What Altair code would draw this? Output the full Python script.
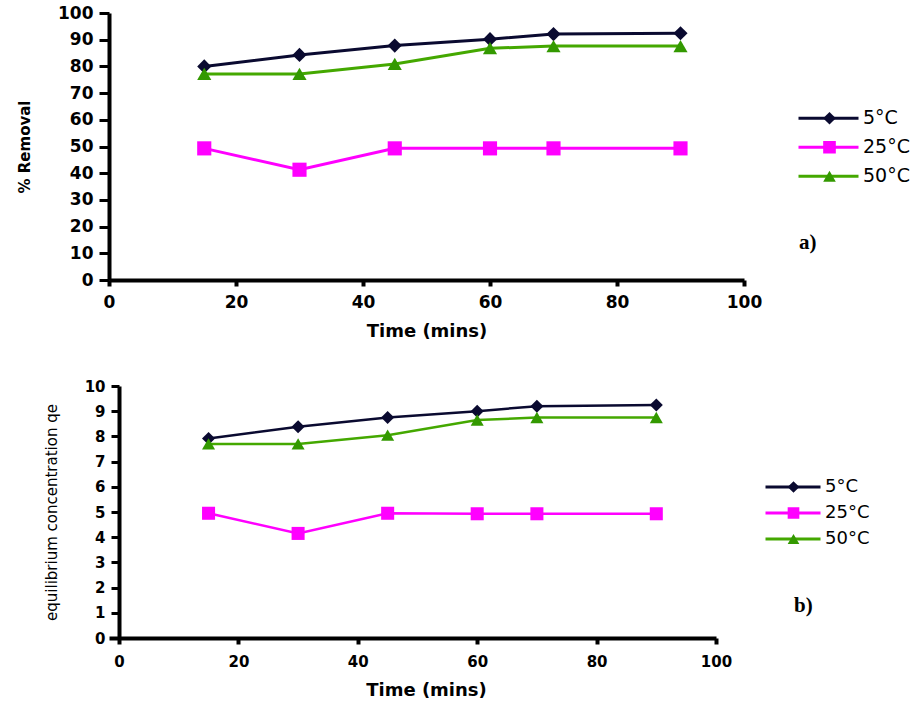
import altair as alt
import pandas as pd

# ---------------- data ----------------
time_min = [15, 30, 45, 60, 70, 90]
series_names = ["5°C", "25°C", "50°C"]

removal_5c = [80.0, 84.3, 87.8, 90.2, 92.1, 92.4]
removal_25c = [49.3, 41.3, 49.3, 49.3, 49.3, 49.3]
removal_50c = [77.2, 77.2, 80.9, 86.8, 87.6, 87.6]

qe_5c = [7.92, 8.38, 8.75, 9.0, 9.2, 9.25]
qe_25c = [4.95, 4.15, 4.95, 4.93, 4.93, 4.93]
qe_50c = [7.7, 7.7, 8.05, 8.65, 8.75, 8.75]

x_ticks = [0, 20, 40, 60, 80, 100]
y_ticks_a = [0, 10, 20, 30, 40, 50, 60, 70, 80, 90, 100]
y_ticks_b = [0, 1, 2, 3, 4, 5, 6, 7, 8, 9, 10]

line_colors = ["#0a0a30", "#ff00ff", "#44a800"]
marker_colors = ["#0a0a30", "#ff00ff", "#339900"]
marker_shapes = ["diamond", "square", "triangle-up"]


def long_df(values):
    rows = []
    for name, vals in zip(series_names, values):
        for t, v in zip(time_min, vals):
            rows.append({"time": t, "value": v, "series": name})
    return pd.DataFrame(rows)


df_a = long_df([removal_5c, removal_25c, removal_50c])
df_b = long_df([qe_5c, qe_25c, qe_50c])

FONT = "DejaVu Sans"


def panel(df, width, height, xdomain, ydomain, yticks, ytitle, ytitle_weight,
          ytitle_size, ytitle_pad, ylabel_size, yoffset, ytick_size,
          xlabel_size, xlabel_pad, xtitle_pad, xtitle_x,
          line_w, mark_size, leg_x, leg_y, leg_len, leg_clip, leg_font,
          tag, tag_x, tag_y):
    x_axis_kwargs = dict(
        values=x_ticks, title="Time (mins)", titleFont=FONT, titleFontWeight="bold",
        titleFontSize=18, titlePadding=xtitle_pad, labelFont=FONT,
        labelFontWeight="bold", labelFontSize=xlabel_size, labelPadding=xlabel_pad,
        labelFlush=False, tickSize=6, tickWidth=4, domainWidth=4, grid=False,
    )
    if xtitle_x is not None:
        x_axis_kwargs["titleX"] = xtitle_x
    x = alt.X("time:Q", scale=alt.Scale(domain=xdomain, nice=False, zero=False),
              axis=alt.Axis(**x_axis_kwargs))
    y = alt.Y("value:Q", scale=alt.Scale(domain=ydomain, nice=False),
              axis=alt.Axis(values=yticks, title=ytitle, titleFont=FONT,
                            titleFontWeight=ytitle_weight, titleFontSize=ytitle_size,
                            titlePadding=ytitle_pad, labelFont=FONT,
                            labelFontWeight="bold", labelFontSize=ylabel_size,
                            labelPadding=6, tickSize=ytick_size, tickWidth=3,
                            domainWidth=4, offset=yoffset, grid=False))
    base = alt.Chart(df)
    line_legend = alt.Legend(orient="none", legendX=leg_x, legendY=leg_y, title=None,
                             symbolType="stroke", symbolSize=leg_len * leg_len,
                             symbolStrokeWidth=3, clipHeight=leg_clip, rowPadding=2,
                             labelFont=FONT, labelFontSize=leg_font, labelColor="black",
                             labelOffset=3, padding=0)
    pt_legend = alt.Legend(orient="none", legendX=leg_x + leg_len / 2 - 7, legendY=leg_y,
                           title=None, symbolSize=mark_size * 0.8, clipHeight=leg_clip,
                           rowPadding=2, labelFont=FONT, labelFontSize=leg_font,
                           labelExpr="''", labelOffset=0, padding=0)
    lines = base.mark_line(strokeWidth=line_w).encode(
        x=x, y=y,
        color=alt.Color("series:N", scale=alt.Scale(domain=series_names, range=line_colors),
                        legend=line_legend),
    )
    points = base.mark_point(filled=True, size=mark_size, opacity=1).encode(
        x=x, y=y,
        color=alt.Color("series:N", scale=alt.Scale(domain=series_names, range=marker_colors),
                        legend=pt_legend),
        shape=alt.Shape("series:N", scale=alt.Scale(domain=series_names, range=marker_shapes),
                        legend=pt_legend),
    )
    tag_text = alt.Chart(pd.DataFrame({"t": [tag]})).mark_text(
        align="left", baseline="middle", font="Liberation Serif", fontWeight="bold",
        fontSize=21, color="black",
    ).encode(x=alt.value(tag_x), y=alt.value(tag_y), text="t:N")
    return alt.layer(lines, points, tag_text).resolve_scale(
        color="independent", shape="independent"
    ).properties(width=width, height=height)


chart_a = panel(df_a, 635, 267, [0, 100], [0, 100], y_ticks_a, "% Removal", "bold",
                15, 25, 17, 0, 10, 17, 8, 12, None,
                3, 200, 688, 92, 60, 26.5, 19, "a)", 690, 230)

chart_b = panel(df_b, 607, 252, [-1.675, 100], [0, 10], y_ticks_b,
                "equilibrium concentration qe", "normal",
                15, 25, 15, -10, 8, 15, 10, 12, 317,
                2.5, 170, 655, 89, 55, 24, 18, "b)", 685, 220)

chart = alt.vconcat(chart_a, chart_b, spacing=39).properties(
    padding={"left": 17, "top": 4, "right": 0, "bottom": 0},
    background="white",
).configure_view(stroke=None).configure_axis(
    domainColor="black", tickColor="black", labelColor="black", titleColor="black"
)

chart.save("out.html", embed_options={"renderer": "svg", "actions": False})
